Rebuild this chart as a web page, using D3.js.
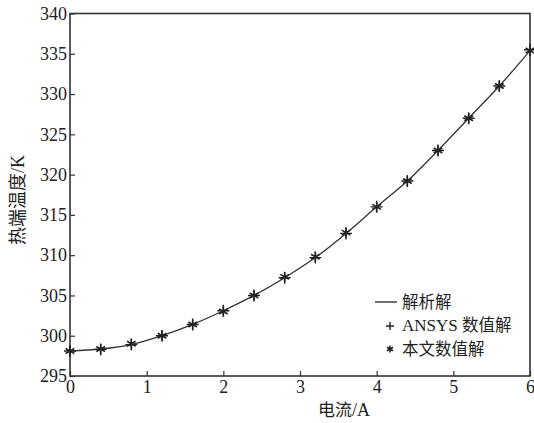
<!DOCTYPE html>
<html>
<head>
<meta charset="utf-8">
<script src="https://cdn.jsdelivr.net/npm/d3@7"></script>
<style>
  body { margin: 0; background: #fff; }
  text { fill: #222; }
</style>
</head>
<body>
<svg id="chart" width="534" height="423"></svg>
<script>
// current (A)
const currents = [0, 0.4, 0.8, 1.2, 1.6, 2.0, 2.4, 2.8, 3.2, 3.6, 4.0, 4.4, 4.8, 5.2, 5.6, 6.0];
// hot-end temperature (K)
const analytic = [298.1, 298.35, 298.9, 300.0, 301.4, 303.1, 305.0, 307.2, 309.7, 312.7, 316.0, 319.2, 323.0, 327.0, 331.0, 335.4];
const ansys    = [298.1, 298.3, 298.9, 300.0, 301.4, 303.1, 305.0, 307.2, 309.7, 312.7, 316.0, 319.2, 323.0, 327.0, 331.0, 335.5];
const paper    = [298.1, 298.35, 299.0, 300.0, 301.4, 303.0, 305.0, 307.3, 309.8, 312.8, 316.0, 319.2, 323.0, 327.0, 331.0, 335.4];
const xTicks = [0, 1, 2, 3, 4, 5, 6];
const yTicks = [295, 300, 305, 310, 315, 320, 325, 330, 335, 340];
const legendLabels = ["解析解", "ANSYS 数值解", "本文数值解"];

const margin = { top: 13.5, right: 4, bottom: 47, left: 70 };
const width = 534 - margin.left - margin.right;
const height = 423 - margin.top - margin.bottom;

const svg = d3.select("#chart")
    .append("g")
    .attr("transform", `translate(${margin.left},${margin.top})`);

const x = d3.scaleLinear().domain([0, 6]).range([0, width]);
const y = d3.scaleLinear().domain([295, 340]).range([height, 0]);

const serif = "'Liberation Serif', 'DejaVu Serif', serif";
const cjk = "'Noto Sans CJK SC', sans-serif";

// axes with inward ticks
const xAxis = svg.append("g")
    .attr("transform", `translate(0,${height})`)
    .call(d3.axisBottom(x).tickValues(xTicks).tickSize(-5).tickPadding(3).tickFormat(d3.format("d")));
const yAxis = svg.append("g")
    .call(d3.axisLeft(y).tickValues(yTicks).tickSize(-5).tickPadding(3).tickFormat(d3.format("d")));

[xAxis, yAxis].forEach(a => {
    a.select(".domain").remove();
    a.selectAll(".tick line").attr("stroke", "#333").attr("stroke-width", 1.2);
    a.selectAll(".tick text")
        .attr("font-family", serif)
        .attr("font-size", "18px")
        .attr("fill", "#222");
});
xAxis.selectAll(".tick text").attr("dy", "0.75em");

// frame
svg.append("rect")
    .attr("x", 0).attr("y", 0)
    .attr("width", width).attr("height", height)
    .attr("fill", "none")
    .attr("stroke", "#333")
    .attr("stroke-width", 1.6);

// analytic curve
const line = d3.line()
    .x((d, i) => x(currents[i]))
    .y(d => y(d))
    .curve(d3.curveCatmullRom);

svg.append("path")
    .datum(analytic)
    .attr("d", line)
    .attr("fill", "none")
    .attr("stroke", "#333")
    .attr("stroke-width", 1.3);

// markers
function plus(g, s) {
    g.append("path")
        .attr("d", `M${-s},0H${s}M0,${-s}V${s}`)
        .attr("stroke", "#222").attr("stroke-width", 1.4).attr("fill", "none");
}
function star(g, s) {
    const p = [];
    for (let k = 0; k < 3; k++) {
        const a = Math.PI / 2 + k * Math.PI / 3;
        p.push(`M${-s * Math.cos(a)},${-s * Math.sin(a)}L${s * Math.cos(a)},${s * Math.sin(a)}`);
    }
    g.append("path")
        .attr("d", p.join(""))
        .attr("stroke", "#222").attr("stroke-width", 1.6).attr("fill", "none");
}

svg.selectAll(".ansys")
    .data(ansys)
    .enter().append("g")
    .attr("class", "ansys")
    .attr("transform", (d, i) => `translate(${x(currents[i])},${y(d)})`)
    .each(function () { plus(d3.select(this), 6); });

svg.selectAll(".paper")
    .data(paper)
    .enter().append("g")
    .attr("class", "paper")
    .attr("transform", (d, i) => `translate(${x(currents[i])},${y(d)})`)
    .each(function () { star(d3.select(this), 5); });

// legend
const legend = svg.append("g").attr("transform", `translate(${375 - margin.left},${302 - margin.top})`);
legend.append("line")
    .attr("x1", 0).attr("x2", 22).attr("y1", 0).attr("y2", 0)
    .attr("stroke", "#333").attr("stroke-width", 1.4);
plus(legend.append("g").attr("transform", "translate(15,24)"), 4);
star(legend.append("g").attr("transform", "translate(15,47)"), 3.5);
legendLabels.forEach((t, i) => {
    legend.append("text")
        .attr("x", 27)
        .attr("y", i * 23.5)
        .attr("dy", "0.35em")
        .attr("font-size", "16.5px")
        .attr("font-family", i === 1 ? serif : cjk)
        .text(i === 1 ? null : t)
        .call(sel => {
            if (i === 1) {
                sel.append("tspan").attr("font-family", serif).attr("font-size", "17px").text("ANSYS ");
                sel.append("tspan").attr("font-family", cjk).text("数值解");
            }
        });
});

// axis titles
svg.append("text")
    .attr("x", 344 - margin.left)
    .attr("y", 410 - margin.top)
    .attr("text-anchor", "middle")
    .attr("dy", "0.35em")
    .attr("font-size", "17px")
    .call(sel => {
        sel.append("tspan").attr("font-family", cjk).text("电流");
        sel.append("tspan").attr("font-family", serif).attr("font-size", "18px").text("/A");
    });

svg.append("text")
    .attr("transform", `translate(${18 - margin.left},${200 - margin.top}) rotate(-90)`)
    .attr("text-anchor", "middle")
    .attr("dy", "0.35em")
    .attr("font-size", "18px")
    .call(sel => {
        sel.append("tspan").attr("font-family", cjk).text("热端温度");
        sel.append("tspan").attr("font-family", serif).attr("font-size", "18px").text("/K");
    });
</script>
</body>
</html>
